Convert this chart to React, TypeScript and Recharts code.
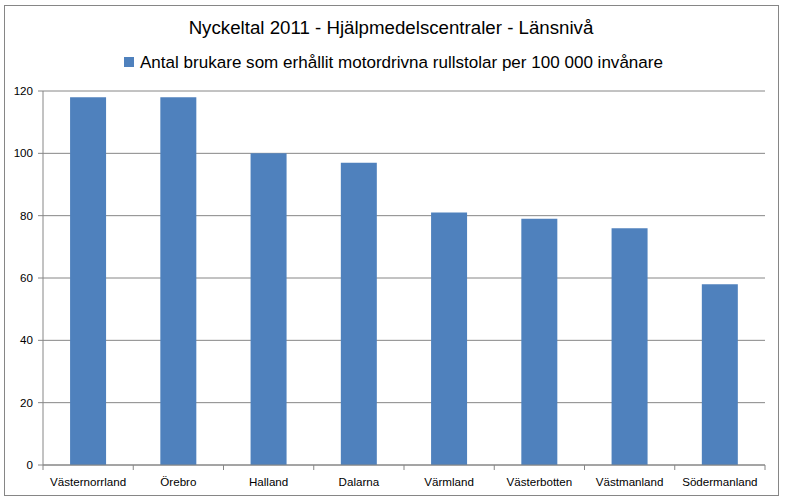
import React from "react";
import { BarChart, Bar, XAxis, YAxis, CartesianGrid } from "recharts";

const categories = ["Västernorrland", "Örebro", "Halland", "Dalarna", "Värmland", "Västerbotten", "Västmanland", "Södermanland"];
const values = [118, 118, 100, 97, 81, 79, 76, 58];
const yTicks = [0, 20, 40, 60, 80, 100, 120];
const title = "Nyckeltal 2011 - Hjälpmedelscentraler - Länsnivå";
const seriesName = "Antal brukare som erhållit motordrivna rullstolar per 100 000 invånare";

const data = categories.map((c, i) => ({ name: c, value: values[i] }));

const FONT = "'Liberation Sans', Arial, sans-serif";
const GRID = "#868686";

const XTick = (props: any) => {
  const { x, y, payload, index, visibleTicksCount } = props;
  const off = payload.offset || 0;
  return (
    <g>
      <line x1={x - off} x2={x - off} y1={y} y2={y + 5} stroke={GRID} />
      {index === visibleTicksCount - 1 && (
        <line x1={x + off} x2={x + off} y1={y} y2={y + 5} stroke={GRID} />
      )}
      <text x={x} y={y + 21} textAnchor="middle" fontSize={11.6} fontFamily={FONT} fill="#000">
        {payload.value}
      </text>
    </g>
  );
};

export default function App() {
  return (
    <div style={{ position: "absolute", left: 0, top: 0, width: 785, height: 501, background: "#fff" }}>
      <div style={{ position: "absolute", left: 4, top: 5, width: 773, height: 489, border: `1px solid ${GRID}` }} />
      <svg width={785} height={80} style={{ position: "absolute", left: 0, top: 0 }}>
        <text x={391} y={34} textAnchor="middle" fontFamily={FONT} fontSize={18.7} fill="#000">
          {title}
        </text>
        <rect x={124} y={57} width={10} height={10} fill="#4F81BD" />
        <text x={140} y={68} fontFamily={FONT} fontSize={16.9} fill="#000" textLength={523} lengthAdjust="spacingAndGlyphs">
          {seriesName}
        </text>
      </svg>
      <div style={{ position: "absolute", left: 0, top: 0 }}>
        <BarChart width={785} height={501} data={data} margin={{ top: 91, right: 20, bottom: 0, left: 0 }} barCategoryGap="30%">
          <CartesianGrid vertical={false} stroke={GRID} strokeWidth={1} />
          <XAxis
            dataKey="name"
            height={36}
            axisLine={{ stroke: GRID }}
            tickLine={false}
            tickSize={0}
            tickMargin={0}
            interval={0}
            tick={<XTick />}
          />
          <YAxis
            width={43}
            domain={[0, 120]}
            ticks={yTicks}
            axisLine={{ stroke: GRID }}
            tickLine={{ stroke: GRID }}
            tickSize={5}
            tickMargin={5}
            tick={{ fontSize: 11.6, fontFamily: FONT, fill: "#000" }}
          />
          <Bar dataKey="value" fill="#4F81BD" isAnimationActive={false} />
        </BarChart>
      </div>
    </div>
  );
}
